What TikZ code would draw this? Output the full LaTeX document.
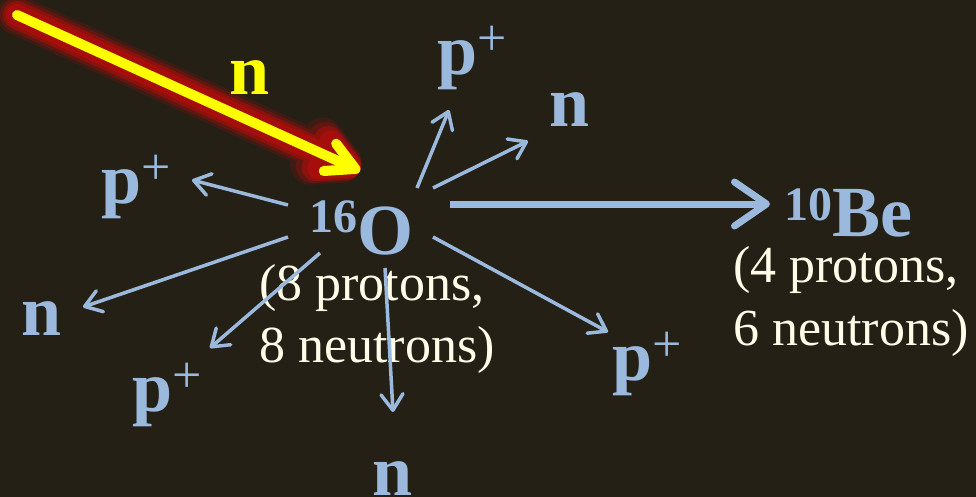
\documentclass[tikz,border=0pt]{standalone}
\usepackage{fontspec}
\setmainfont{Liberation Serif}
\usetikzlibrary{arrows.meta}

\definecolor{bgdark}{RGB}{36,32,22}
\definecolor{partblue}{RGB}{155,185,220}
\definecolor{creamtext}{RGB}{255,252,232}
\definecolor{glowred}{RGB}{165,14,10}
\definecolor{beamyellow}{RGB}{255,255,0}

\newcommand{\bigsz}{\fontsize{72}{72}\selectfont}
\newcommand{\supsz}{\fontsize{48}{48}\selectfont}
\newcommand{\notesz}{\fontsize{52}{52}\selectfont}
\newcommand{\protonlbl}{{\bfseries p}\raisebox{19pt}{\fontsize{52}{52}\selectfont\mdseries +}}

\tikzset{
  lbl/.style={text=partblue, inner sep=0pt, anchor=base west, font=\bigsz\bfseries},
  note/.style={text=creamtext, inner sep=0pt, anchor=base west, font=\notesz},
  ray/.style={draw=partblue, line width=3.5pt, -{Straight Barb[length=16pt,width=22pt,round]}}
}

\begin{document}
\begin{tikzpicture}[x=1pt, y=-1pt]
  % Background
  \fill[bgdark] (0,0) rectangle (976,497);
  \useasboundingbox (0,0) rectangle (976,497);
  % Incoming neutron with red glow
  \coordinate (beamstart) at (17,15);
  \coordinate (beamend) at (360,171);
  \foreach \w/\c in {40/20, 34/45, 28/80, 22/100}
    \draw[line width=\w pt, glowred!\c!bgdark, line cap=round,
          -{Straight Barb[length=28pt,width=30pt,round]}] (beamstart) -- (beamend);
  \draw[line width=10pt, beamyellow, line cap=round,
        -{Straight Barb[length=28pt,width=30pt,round]}] (beamstart) -- (beamend);
  \node[lbl, text=beamyellow] (nIn) at (229,95) {n};
  % Nuclei
  \node[lbl] (oxy) at (309,254) {\raisebox{22pt}{\supsz 16}O};
  \node[lbl] (beryl) at (784,236) {\raisebox{16pt}{\supsz 10}Be};
  \node[note] (oxyA) at (259,300) {(8 protons,};
  \node[note] (oxyB) at (259,362) {8 neutrons)};
  \node[note] (berA) at (733,282) {(4 protons,};
  \node[note] (berB) at (733,345) {6 neutrons)};
  % Fragments
  \node[lbl] (pTop) at (437,75) {\protonlbl};
  \node[lbl] (nTop) at (549,127) {n};
  \node[lbl] (pLeft) at (101,203) {\protonlbl};
  \node[lbl] (nLeft) at (21,335) {n};
  \node[lbl] (pLow) at (132,411) {\protonlbl};
  \node[lbl] (nLow) at (372,495) {n};
  \node[lbl] (pRight) at (612,380) {\protonlbl};
  % Arrows out of the nucleus
  \coordinate (f1) at (417,188); \coordinate (h1) at (449,110);
  \coordinate (f2) at (433,188); \coordinate (h2) at (528,141);
  \coordinate (f3) at (288,205); \coordinate (h3) at (192,180);
  \coordinate (f4) at (288,237); \coordinate (h4) at (83,307);
  \coordinate (f5) at (320,253); \coordinate (h5) at (210,348);
  \coordinate (f6) at (385,268); \coordinate (h6) at (393,412);
  \coordinate (f7) at (433,237); \coordinate (h7) at (608,332);
  \foreach \i in {1,...,7}
    \draw[ray] (f\i) -- (h\i);
  % Reaction arrow
  \coordinate (fBe) at (450,204);
  \coordinate (hBe) at (770,204);
  \draw[line width=7pt, partblue, -{Straight Barb[length=32pt,width=44pt,round]}] (fBe) -- (hBe);
\end{tikzpicture}
\end{document}
